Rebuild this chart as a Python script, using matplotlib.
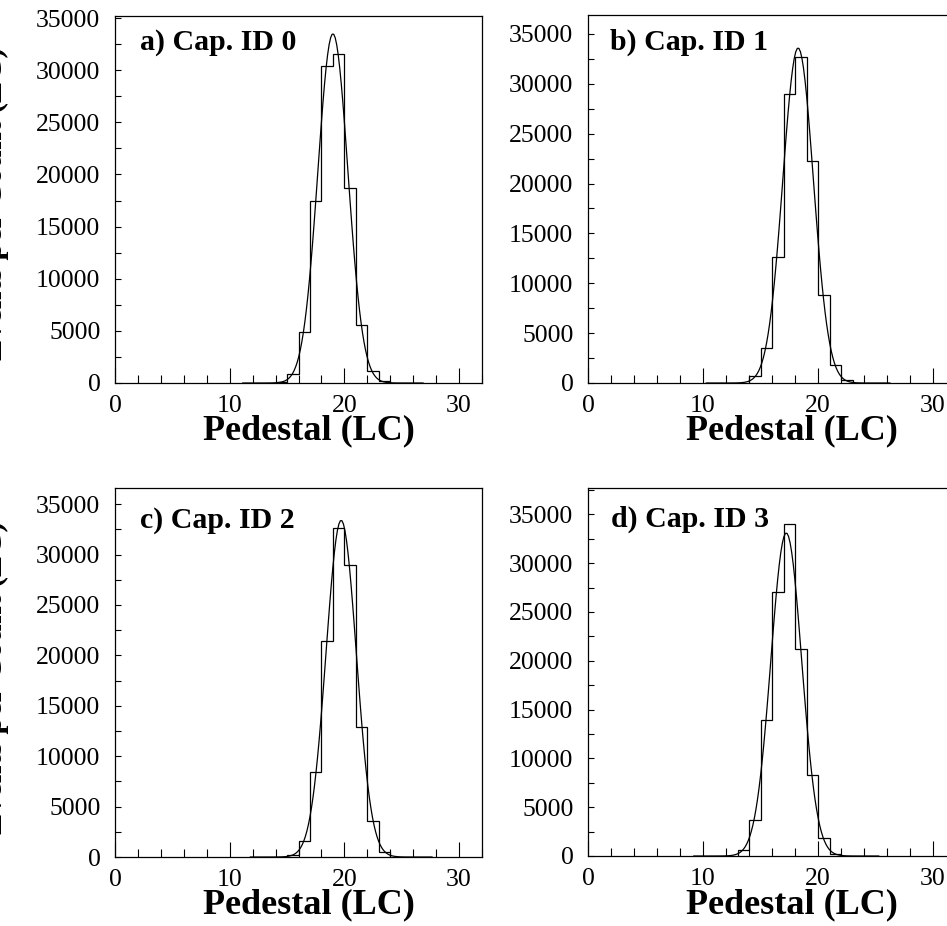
import numpy as np
import matplotlib
matplotlib.use("Agg")
import matplotlib.pyplot as plt
from matplotlib.ticker import MultipleLocator

matplotlib.rcParams["font.family"] = "Liberation Serif"

W, H = 947, 926  # output size in pixels

# ---- data ----
PANEL_LABELS = ["a) Cap. ID 0", "b) Cap. ID 1", "c) Cap. ID 2", "d) Cap. ID 3"]
X_LABEL = "Pedestal (LC)"
Y_LABEL = "Events per Count (LC)"

# first bin edge of each histogram (bins are 1 LC wide)
BIN_START = [14, 14, 15, 13]
COUNTS_A = [50, 830, 4900, 17500, 30400, 31600, 18700, 5600, 1150, 150]
COUNTS_B = [670, 3500, 12600, 29000, 32700, 22300, 8800, 1800, 300]
COUNTS_C = [170, 1600, 8400, 21400, 32600, 29000, 12900, 3600, 500]
COUNTS_D = [600, 3700, 13900, 27000, 34000, 21200, 8300, 1800, 200]
COUNTS = [COUNTS_A, COUNTS_B, COUNTS_C, COUNTS_D]

# gaussian fit parameters
FIT_MEAN = [19.0, 18.27, 19.72, 17.24]
FIT_SIGMA = [1.31, 1.33, 1.32, 1.34]
FIT_PEAK = [33500, 33600, 33400, 33100]

X_MAX = 32
Y_TOP = [35200, 36900, 36600, 37700]

# ---- layout (pixels: left, top, right, bottom) ----
BOXES = [(115, 16, 482, 383), (588, 15, 956, 383),
         (115, 488, 482, 857), (588, 488, 956, 856)]
TAG_POS = [(140, 50), (610, 50), (140, 528), (611, 527)]
XLAB_POS = [(309, 439), (792, 439), (309, 913), (792, 913)]
YLAB_POS = [203, None, 677, None]

fig = plt.figure(figsize=(W / 100, H / 100), dpi=100)
fig.patch.set_facecolor("white")

for i in range(4):
    l, t, r, b = BOXES[i]
    ax = fig.add_axes([l / W, 1 - b / H, (r - l) / W, (b - t) / H])

    edges = np.arange(BIN_START[i], BIN_START[i] + len(COUNTS[i]) + 1)
    ax.stairs(COUNTS[i], edges, color="black", linewidth=0.9, baseline=0)

    mu, sg, amp = FIT_MEAN[i], FIT_SIGMA[i], FIT_PEAK[i]
    xf = np.linspace(mu - 6 * sg, mu + 6 * sg, 120)
    ax.plot(xf, amp * np.exp(-0.5 * ((xf - mu) / sg) ** 2), color="black", linewidth=0.9)

    ax.set_xlim(0, X_MAX)
    ax.set_ylim(0, Y_TOP[i])

    ax.xaxis.set_major_locator(MultipleLocator(10))
    ax.xaxis.set_minor_locator(MultipleLocator(2))
    ax.yaxis.set_major_locator(MultipleLocator(5000))
    ax.yaxis.set_minor_locator(MultipleLocator(2500))

    ax.tick_params(axis="x", which="major", direction="in", length=11, width=0.8,
                   pad=8.5, labelsize=18.5, top=False)
    ax.tick_params(axis="x", which="minor", direction="in", length=6, width=0.8, top=False)
    ax.tick_params(axis="y", which="both", direction="in", length=4, width=0.8,
                   pad=10.5, labelsize=18.5, right=False)

    for s in ax.spines.values():
        s.set_linewidth(0.9)

    tx, ty = TAG_POS[i]
    fig.text(tx / W, 1 - ty / H, PANEL_LABELS[i], fontsize=21.5, fontweight="bold",
             ha="left", va="baseline")

    lx, ly = XLAB_POS[i]
    fig.text(lx / W, 1 - ly / H, X_LABEL, fontsize=26, fontweight="bold",
             ha="center", va="baseline")

    # y title mostly falls off the left edge of the canvas, as in the original
    if YLAB_POS[i] is not None:
        fig.text(9 / W, 1 - YLAB_POS[i] / H, Y_LABEL, fontsize=23, fontweight="bold",
                 rotation=90, ha="right", va="center")

fig.savefig("out.png", dpi=100)
